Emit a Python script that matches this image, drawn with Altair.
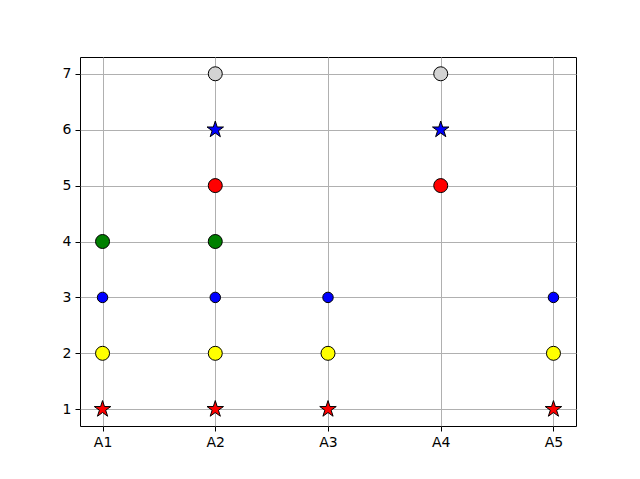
import altair as alt
import pandas as pd

categories = ["A1", "A2", "A3", "A4", "A5"]

red_star_x = ["A1", "A2", "A3", "A5"]
red_star_y = [1, 1, 1, 1]
yellow_x = ["A1", "A2", "A3", "A5"]
yellow_y = [2, 2, 2, 2]
blue_small_x = ["A1", "A2", "A3", "A5"]
blue_small_y = [3, 3, 3, 3]
green_x = ["A1", "A2"]
green_y = [4, 4]
red_circle_x = ["A2", "A4"]
red_circle_y = [5, 5]
blue_star_x = ["A2", "A4"]
blue_star_y = [6, 6]
gray_x = ["A2", "A4"]
gray_y = [7, 7]

y_ticks = [1, 2, 3, 4, 5, 6, 7]

STAR = ("M0,-1 L0.2245,-0.309 L0.9511,-0.309 L0.3633,0.118 L0.5878,0.809 "
        "L0,0.382 L-0.5878,0.809 L-0.3633,0.118 L-0.9511,-0.309 L-0.2245,-0.309 Z")

series_names = ["red_star", "yellow", "blue_small", "green", "red_circle", "blue_star", "gray"]
series_data = [
    (red_star_x, red_star_y),
    (yellow_x, yellow_y),
    (blue_small_x, blue_small_y),
    (green_x, green_y),
    (red_circle_x, red_circle_y),
    (blue_star_x, blue_star_y),
    (gray_x, gray_y),
]
series_fill = ["red", "yellow", "blue", "green", "red", "blue", "lightgray"]
series_shape = [STAR, "circle", "circle", "circle", "circle", STAR, "circle"]
series_size = [300, 196, 110, 196, 196, 300, 196]

rows = []
for name, (xs, ys) in zip(series_names, series_data):
    for xv, yv in zip(xs, ys):
        rows.append({"cat": xv, "val": yv, "series": name})
df = pd.DataFrame(rows)

chart = (
    alt.Chart(df)
    .mark_point(filled=True, stroke="black", strokeWidth=1, opacity=1)
    .encode(
        x=alt.X(
            "cat:N",
            scale=alt.Scale(type="point", domain=categories, padding=0.2),
            axis=alt.Axis(title=None, labelAngle=0, grid=True),
        ),
        y=alt.Y(
            "val:Q",
            scale=alt.Scale(domain=[0.7, 7.3], nice=False, zero=False),
            axis=alt.Axis(title=None, values=y_ticks, grid=True, format="d"),
        ),
        fill=alt.Fill("series:N", scale=alt.Scale(type="ordinal", domain=series_names, range=series_fill), legend=None),
        shape=alt.Shape("series:N", scale=alt.Scale(type="ordinal", domain=series_names, range=series_shape), legend=None),
        size=alt.Size("series:N", scale=alt.Scale(type="ordinal", domain=series_names, range=series_size), legend=None),
    )
    .properties(
        width=496,
        height=369,
        autosize="none",
        padding={"left": 80, "top": 57, "right": 64, "bottom": 53},
        background="white",
    )
    .configure_view(stroke="black", strokeWidth=1)
    .configure_axis(
        domain=False,
        gridColor="#b0b0b0",
        gridWidth=1,
        tickColor="black",
        tickSize=5,
        labelColor="black",
        labelFont="DejaVu Sans",
        labelFontSize=14,
        labelPadding=4,
    )
)

chart.save("out.html", embed_options={"renderer": "svg", "actions": False})
